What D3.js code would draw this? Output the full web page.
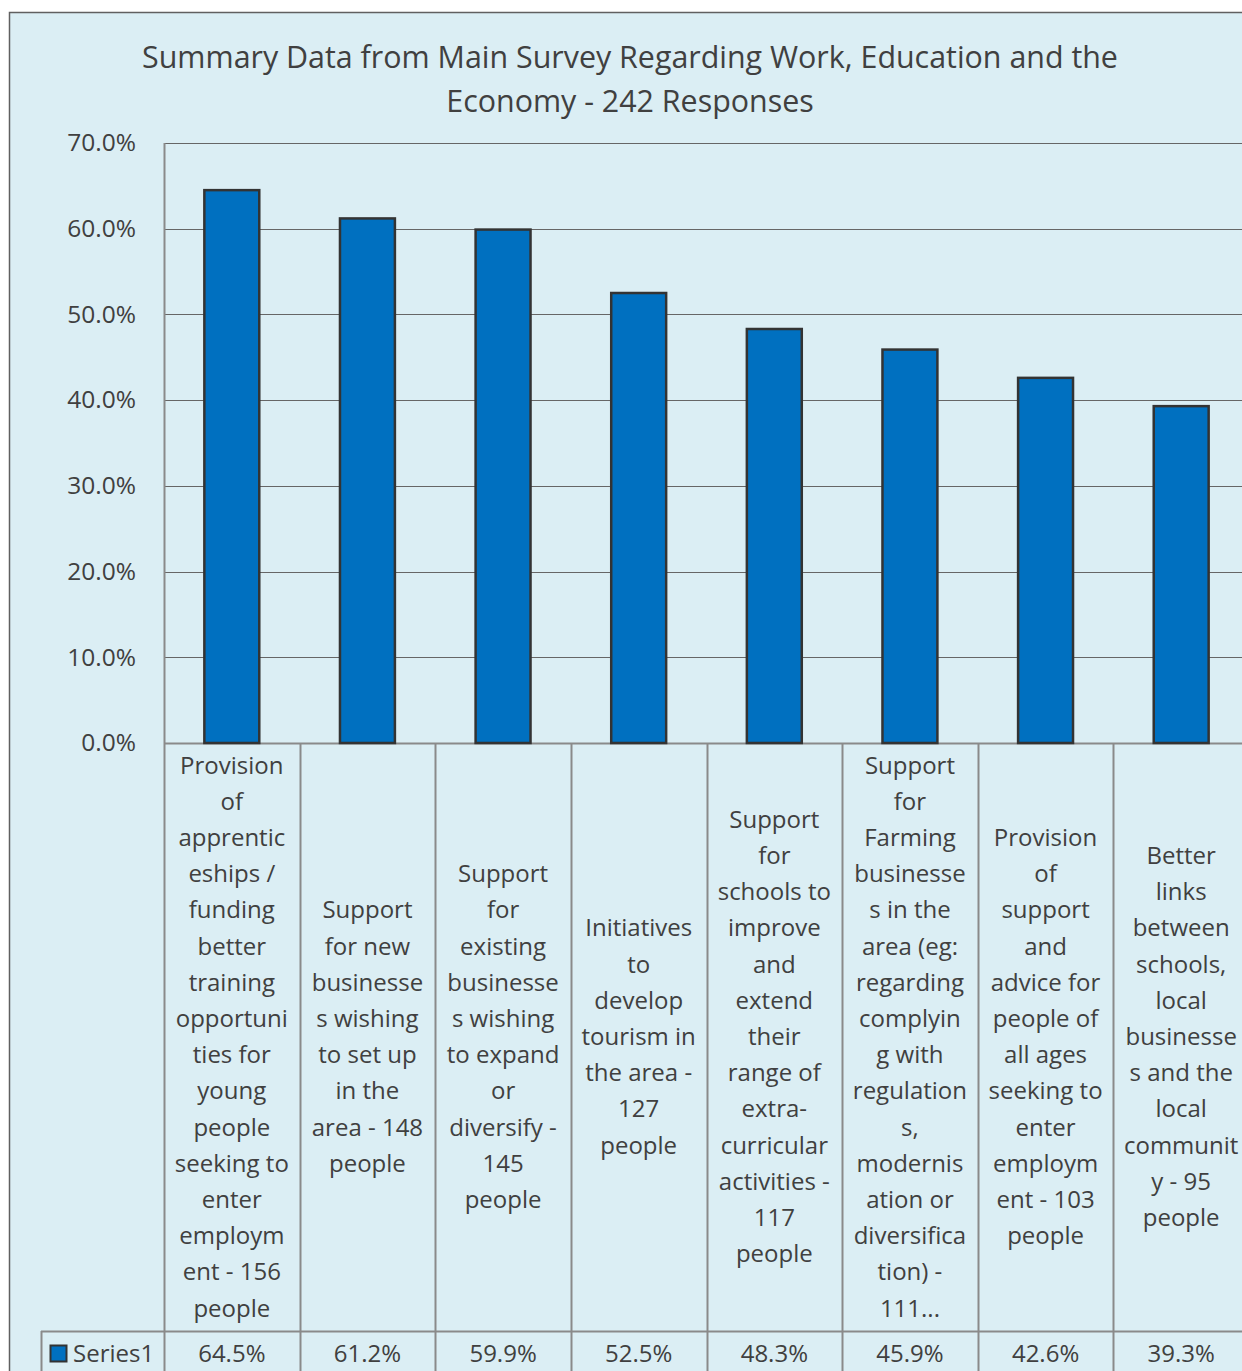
<!DOCTYPE html>
<html>
<head>
<meta charset="utf-8">
<script src="https://cdn.jsdelivr.net/npm/d3@7"></script>
<style>
	body { margin: 0; background: #fff; }
	svg text { font-family: "Open Sans", "Noto Sans", sans-serif; fill: #404040; }
</style>
</head>
<body>
<div id="chart"></div>
<script>
// chart data
var values = [64.5, 61.2, 59.9, 52.5, 48.3, 45.9, 42.6, 39.3];
var seriesName = "Series1";
var yTicks = [0, 10, 20, 30, 40, 50, 60, 70];
var titleLines = ["Summary Data from Main Survey Regarding Work, Education and the", "Economy - 242 Responses"];
var categoryLines = [
	["Provision", "of", "apprentic", "eships /", "funding", "better", "training", "opportuni", "ties for", "young", "people", "seeking to", "enter", "employm", "ent - 156", "people"],
	["Support", "for new", "businesse", "s wishing", "to set up", "in the", "area - 148", "people"],
	["Support", "for", "existing", "businesse", "s wishing", "to expand", "or", "diversify  -", "145", "people"],
	["Initiatives", "to", "develop", "tourism in", "the area -", "127", "people"],
	["Support", "for", "schools to", "improve", "and", "extend", "their", "range of", "extra-", "curricular", "activities -", "117", "people"],
	["Support", "for", "Farming", "businesse", "s in the", "area (eg:", "regarding", "complyin", "g with", "regulation", "s,", "modernis", "ation or", "diversifica", "tion) -", "111..."],
	["Provision", "of", "support", "and", "advice for", "people of", "all ages", "seeking to", "enter", "employm", "ent - 103", "people"],
	["Better", "links", "between", "schools,", "local", "businesse", "s and the", "local", "communit", "y - 95", "people"]
];

var W = 1242, H = 1371;
var plot = { left: 164, top: 143, right: 1249, bottom: 743 };
var tableRowTop = 1331, legendLeft = 41;
var gridColor = "#8a8a8a";

var svg = d3.select("#chart")
	.append("svg")
	.attr("width", W)
	.attr("height", H);

// chart frame
svg.append("rect")
	.attr("x", 9.5)
	.attr("y", 12.5)
	.attr("width", 1260)
	.attr("height", 1420)
	.style("fill", "#DBEEF4")
	.style("stroke", "#606060")
	.style("stroke-width", 1.5);

// title
svg.append("g")
	.selectAll("text")
	.data(titleLines)
	.enter()
	.append("text")
	.attr("x", 630)
	.attr("y", function(d, i) { return 68 + i * 44; })
	.attr("text-anchor", "middle")
	.style("font-size", "30.4px")
	.text(function(d) { return d; });

var x = d3.scaleBand()
	.domain(d3.range(values.length))
	.range([plot.left, plot.right])
	.paddingInner(0.595)
	.paddingOuter(0.2975);

var y = d3.scaleLinear()
	.domain([0, 70])
	.range([plot.bottom, plot.top]);

// gridlines
svg.append("g")
	.selectAll("line")
	.data(yTicks)
	.enter()
	.append("line")
	.attr("x1", plot.left)
	.attr("x2", W)
	.attr("y1", function(d) { return Math.round(y(d)) + 0.5; })
	.attr("y2", function(d) { return Math.round(y(d)) + 0.5; })
	.style("stroke", function(d) { return d === 0 ? gridColor : "#666666"; })
	.style("stroke-width", function(d) { return d === 0 ? 2 : 1.2; });

// y axis labels
var yAxis = svg.append("g")
	.attr("transform", "translate(" + plot.left + ",0)")
	.call(d3.axisLeft(y).tickValues(yTicks).tickSize(0).tickPadding(28)
		.tickFormat(function(d) { return d.toFixed(1) + "%"; }));
yAxis.select(".domain").remove();
yAxis.selectAll("text")
	.style("font-size", "24.5px")
	.style("fill", "#404040")
	.style("font-family", "'Open Sans', sans-serif");

// bars
svg.append("g")
	.selectAll("rect")
	.data(values)
	.enter()
	.append("rect")
	.attr("x", function(d, i) { return x(i); })
	.attr("y", function(d) { return y(d); })
	.attr("width", x.bandwidth())
	.attr("height", function(d) { return y(0) - y(d); })
	.style("fill", "#0070C0")
	.style("stroke", "#333333")
	.style("stroke-width", 2.5);

// table lines
var step = x.step();
var bounds = d3.range(values.length + 1).map(function(i) { return plot.left + i * step; });

svg.append("line")
	.attr("x1", plot.left + 0.5).attr("x2", plot.left + 0.5)
	.attr("y1", plot.top).attr("y2", H)
	.style("stroke", gridColor).style("stroke-width", 2);

svg.append("g")
	.selectAll("line")
	.data(bounds.slice(1))
	.enter()
	.append("line")
	.attr("x1", function(d) { return Math.round(d) + 0.5; })
	.attr("x2", function(d) { return Math.round(d) + 0.5; })
	.attr("y1", plot.bottom)
	.attr("y2", H)
	.style("stroke", gridColor)
	.style("stroke-width", 2);

svg.append("line")
	.attr("x1", legendLeft).attr("x2", W)
	.attr("y1", tableRowTop + 0.5).attr("y2", tableRowTop + 0.5)
	.style("stroke", gridColor).style("stroke-width", 2);

svg.append("line")
	.attr("x1", legendLeft + 0.5).attr("x2", legendLeft + 0.5)
	.attr("y1", tableRowTop).attr("y2", H)
	.style("stroke", gridColor).style("stroke-width", 2);

// category labels
var lineH = 36.2;
var cellMid = (plot.bottom + tableRowTop) / 2;
var cats = svg.append("g")
	.selectAll("text")
	.data(categoryLines)
	.enter()
	.append("text")
	.attr("text-anchor", "middle")
	.style("font-size", "24px");

cats.selectAll("tspan")
	.data(function(d, i) {
		return d.map(function(t, j) { return { t: t, j: j, n: d.length, i: i }; });
	})
	.enter()
	.append("tspan")
	.attr("x", function(d) { return x(d.i) + x.bandwidth() / 2; })
	.attr("y", function(d) { return cellMid + (d.j - (d.n - 1) / 2) * lineH + 8; })
	.text(function(d) { return d.t; });

// data table values
svg.append("g")
	.selectAll("text")
	.data(values)
	.enter()
	.append("text")
	.attr("x", function(d, i) { return x(i) + x.bandwidth() / 2; })
	.attr("y", 1362)
	.attr("text-anchor", "middle")
	.style("font-size", "24px")
	.text(function(d) { return d.toFixed(1) + "%"; });

// legend key
svg.append("rect")
	.attr("x", 50.5)
	.attr("y", 1345.5)
	.attr("width", 16)
	.attr("height", 16)
	.style("fill", "#0070C0")
	.style("stroke", "#333333")
	.style("stroke-width", 2);

svg.append("text")
	.attr("x", 73)
	.attr("y", 1362)
	.style("font-size", "24px")
	.text(seriesName);
</script>
</body>
</html>
